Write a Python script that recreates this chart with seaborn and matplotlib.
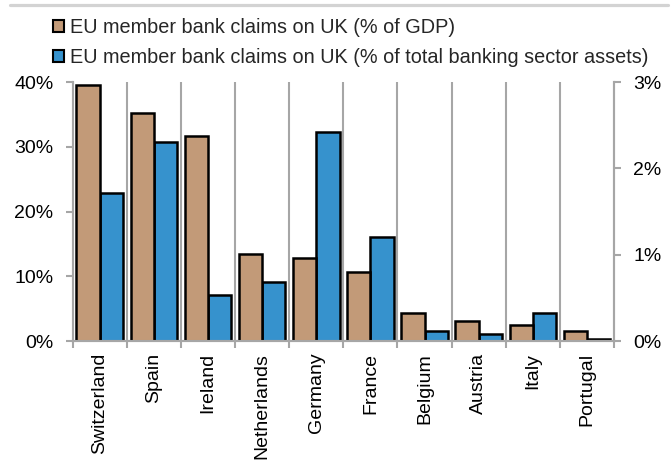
import matplotlib
matplotlib.use("Agg")
import matplotlib.pyplot as plt
from matplotlib.patches import Patch
from matplotlib.lines import Line2D
from matplotlib.ticker import FuncFormatter, FixedLocator
import numpy as np
import pandas as pd
import seaborn as sns

countries = ["Switzerland", "Spain", "Ireland", "Netherlands", "Germany",
             "France", "Belgium", "Austria", "Italy", "Portugal"]
gdp_pct = [39.6, 35.2, 31.7, 13.4, 12.8, 10.6, 4.3, 3.1, 2.5, 1.55]
assets_pct = [1.71, 2.31, 0.53, 0.68, 2.42, 1.21, 0.12, 0.085, 0.32, 0.02]

series_gdp = "EU member bank claims on UK (% of GDP)"
series_assets = "EU member bank claims on UK (% of total banking sector assets)"
series_order = [series_gdp, series_assets]
brown = "#C29A78"
blue = "#3692CD"
grey = "#A6A6A6"

sns.set_theme(style="white")
plt.rcParams["font.family"] = ["Liberation Sans", "DejaVu Sans"]
plt.rcParams["font.size"] = 14

n = len(countries)
df_gdp = pd.DataFrame({"country": countries, "series": series_gdp, "value": gdp_pct})
df_assets = pd.DataFrame({"country": countries, "series": series_assets, "value": assets_pct})

fig = plt.figure(figsize=(6.72, 4.61), dpi=100)
ax = fig.add_axes([0.1082, 0.2603, 0.8055, 0.5618])
ax2 = ax.twinx()

common = dict(x="country", y="value", hue="series", hue_order=series_order,
              order=countries, dodge=True, width=0.86, edgecolor="black",
              linewidth=1.8, legend=False, saturation=1)
sns.barplot(data=df_gdp, ax=ax, palette=[brown, blue], **common)
sns.barplot(data=df_assets, ax=ax2, palette=[brown, blue], **common)

ax.set_ylim(0, 40)
ax2.set_ylim(0, 3)
ax.set_xlim(-0.5, n - 0.5)
ax.set_yticks([0, 10, 20, 30, 40])
ax2.set_yticks([0, 1, 2, 3])
ax.yaxis.set_major_formatter(FuncFormatter(lambda v, p: f"{v:.0f}%"))
ax2.yaxis.set_major_formatter(FuncFormatter(lambda v, p: f"{v:.0f}%"))

# category separators
bounds = np.arange(-0.5, n, 1.0)
for b in bounds[1:-1]:
    ax.axvline(b, color=grey, lw=1.5, zorder=0.5)
ax.xaxis.set_minor_locator(FixedLocator(bounds))
ax.set_xticks(range(n))
ax.set_xticklabels(countries, rotation=90)
ax.tick_params(axis="x", which="major", length=0, pad=8.5, labelsize=14, colors="black")
ax.tick_params(axis="x", which="minor", length=5, width=1.5, color=grey, bottom=True)
ax.tick_params(axis="y", length=5, width=1.5, color=grey, pad=9, labelsize=14,
               labelcolor="black", left=True)
ax2.tick_params(axis="y", length=5, width=1.5, color=grey, pad=9, labelsize=14,
                labelcolor="black", right=True)

ax.set_xlabel("")
ax.set_ylabel("")
ax2.set_ylabel("")
for a in (ax, ax2):
    a.spines["top"].set_visible(False)
    for s in ("left", "right", "bottom"):
        a.spines[s].set_color(grey)
        a.spines[s].set_linewidth(1.5)
ax.set_zorder(ax2.get_zorder() + 1)
ax.patch.set_visible(False)

handles = [Patch(facecolor=brown, edgecolor="black", linewidth=1.5),
           Patch(facecolor=blue, edgecolor="black", linewidth=1.5)]
fig.legend(handles, series_order, loc="upper left",
           bbox_to_anchor=(53 / 672, 1 - 18 / 461), frameon=False,
           handlelength=0.56, handleheight=0.56, handletextpad=0.28,
           labelspacing=0.55, borderpad=0, borderaxespad=0, fontsize=14.3)

fig.add_artist(Line2D([10 / 672, 668 / 672], [1 - 5.5 / 461, 1 - 5.5 / 461],
                      transform=fig.transFigure, color="#D3D3D3", lw=2.3))

fig.savefig("out.png", dpi=100)
